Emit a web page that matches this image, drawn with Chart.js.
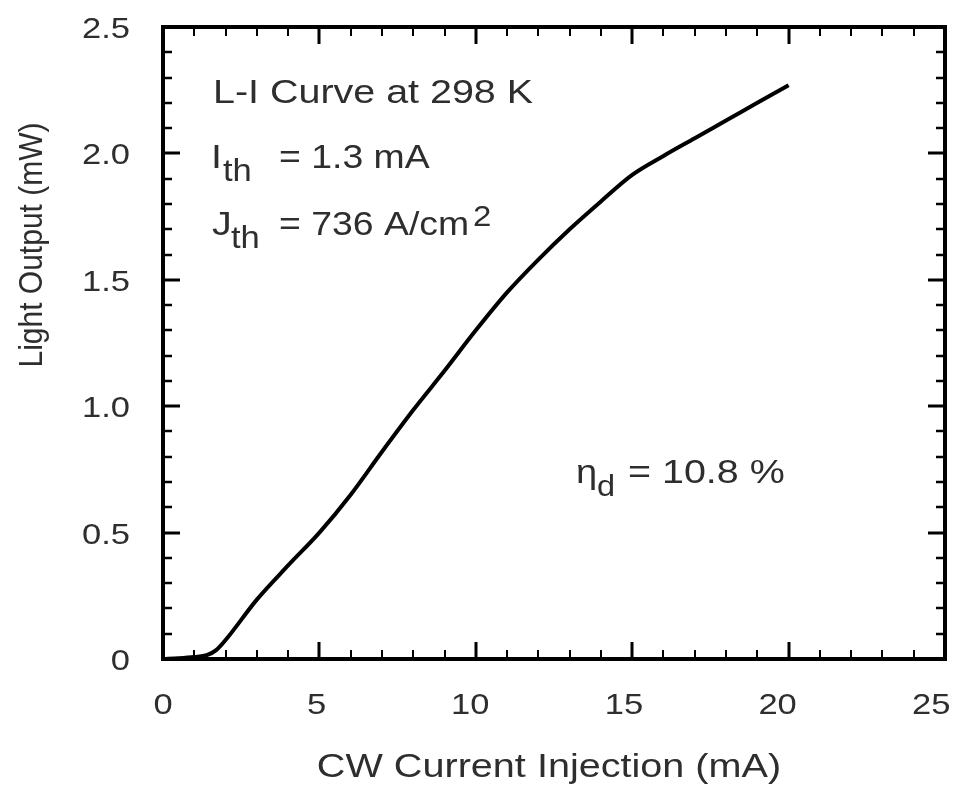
<!DOCTYPE html>
<html>
<head>
<meta charset="utf-8">
<script src="https://cdn.jsdelivr.net/npm/chart.js@4.4.1/dist/chart.umd.min.js"></script>
<style>
  html, body { margin: 0; padding: 0; background: #fff; }
  #wrap { width: 959px; height: 792px; }
</style>
</head>
<body>
<div id="wrap"><canvas id="chart" width="959" height="792"></canvas></div>
<script>
// current (mA) and light output (mW)
const currentMA = [0, 0.5, 1, 1.4, 1.7, 2, 3, 4, 5, 6, 7, 8, 9, 10, 11, 12, 13, 14, 15, 16, 17, 18, 19, 20];
const lightMW = [0, 0.003, 0.008, 0.015, 0.035, 0.075, 0.235, 0.37, 0.5, 0.65, 0.82, 0.985, 1.14, 1.3, 1.45, 1.58, 1.7, 1.81, 1.915, 1.99, 2.06, 2.13, 2.2, 2.27];

const xTicks = [0, 5, 10, 15, 20, 25];
const yTicks = [0, 0.5, 1.0, 1.5, 2.0, 2.5];
const yTickLabels = ["0", "0.5", "1.0", "1.5", "2.0", "2.5"];

const xTitle = "CW Current Injection (mA)";
const yTitle = "Light Output (mW)";

const FONT = "'Liberation Sans', Arial, sans-serif";
const TEXT = "#2e2e2e";

const points = currentMA.map((x, i) => ({ x: x, y: lightMW[i] }));

// the source figure's lettering is a bit wide, so text gets a horizontal stretch
function wideText(ctx, text, x, y, size, sx, align) {
    ctx.save();
    ctx.font = size + "px " + FONT;
    ctx.textAlign = align || "left";
    ctx.textBaseline = "alphabetic";
    ctx.translate(x, y);
    ctx.scale(sx, 1);
    ctx.fillText(text, 0, 0);
    ctx.restore();
}

const framePlugin = {
    id: "frame",
    afterDraw(chart) {
        const ctx = chart.ctx;
        const a = chart.chartArea;
        const xs = chart.scales.x;
        const ys = chart.scales.y;

        ctx.save();
        ctx.strokeStyle = "#000";

        // inward ticks on all four sides
        for (let v = 0; v <= 25; v += 1) {
            const px = Math.round(xs.getPixelForValue(v));
            const major = v % 5 === 0;
            const len = major ? 17 : 9;
            ctx.lineWidth = major ? 3 : 2;
            ctx.beginPath();
            ctx.moveTo(px, a.bottom);
            ctx.lineTo(px, a.bottom - len);
            ctx.moveTo(px, a.top);
            ctx.lineTo(px, a.top + len);
            ctx.stroke();
        }
        for (let k = 0; k <= 25; k++) {
            const py = Math.round(ys.getPixelForValue(k / 10));
            const major = k % 5 === 0;
            const len = major ? 17 : 9;
            ctx.lineWidth = major ? 3 : 2.5;
            ctx.beginPath();
            ctx.moveTo(a.left, py);
            ctx.lineTo(a.left + len, py);
            ctx.moveTo(a.right, py);
            ctx.lineTo(a.right - len, py);
            ctx.stroke();
        }

        ctx.lineWidth = 4;
        ctx.strokeRect(a.left, a.top, a.right - a.left, a.bottom - a.top);

        ctx.fillStyle = TEXT;

        // tick labels (the original's labels drift slightly left along the axis)
        xTicks.forEach(v => {
            wideText(ctx, String(v), xs.getPixelForValue(v) - v * 0.55, 714, 30, 1.15, "center");
        });
        yTicks.forEach((v, i) => {
            wideText(ctx, yTickLabels[i], 130, ys.getPixelForValue(v) + 11, 30, 1.15, "right");
        });

        // axis titles
        wideText(ctx, xTitle, 549, 777, 33, 1.2, "center");

        ctx.save();
        ctx.translate(33, 245);
        ctx.rotate(-Math.PI / 2);
        ctx.scale(1, 1.12);
        ctx.font = "30px " + FONT;
        ctx.textAlign = "center";
        ctx.textBaseline = "middle";
        ctx.fillText(yTitle, 0, 0);
        ctx.restore();

        // notes
        wideText(ctx, "L-I Curve at 298 K", 213, 103, 34, 1.16);

        wideText(ctx, "I", 211, 168, 34, 1.16);
        wideText(ctx, "th", 223, 181, 32, 1.08);
        wideText(ctx, "= 1.3 mA", 279, 168, 34, 1.1);

        wideText(ctx, "J", 212, 235, 34, 1.16);
        wideText(ctx, "th", 231, 248, 32, 1.08);
        wideText(ctx, "= 736 A/cm", 279, 235, 34, 1.1);
        wideText(ctx, "2", 473, 226, 30, 1.1);

        wideText(ctx, "\u03b7", 576, 483, 34, 1.12);
        wideText(ctx, "d", 597, 496, 29, 1.12);
        wideText(ctx, "= 10.8 %", 628, 483, 34, 1.16);

        ctx.restore();
    }
};

new Chart(document.getElementById("chart"), {
    type: "line",

    data: {
        datasets: [
            {
                label: "L-I",
                data: points,
                borderColor: "#000",
                borderWidth: 4,
                pointRadius: 0,
                cubicInterpolationMode: "monotone",
                fill: false
            }
        ]
    },

    options: {
        responsive: false,
        animation: false,
        events: [],

        layout: {
            padding: { top: 27, right: 14, left: 0, bottom: 0 }
        },

        plugins: {
            legend: { display: false },
            tooltip: { enabled: false }
        },

        scales: {
            x: {
                type: "linear",
                min: 0,
                max: 25,
                border: { display: false },
                grid: { display: false, drawTicks: false },
                ticks: { display: false },
                afterFit(scale) {
                    scale.height = 133;
                }
            },

            y: {
                type: "linear",
                min: 0,
                max: 2.5,
                border: { display: false },
                grid: { display: false, drawTicks: false },
                ticks: { display: false },
                afterFit(scale) {
                    scale.width = 163;
                }
            }
        }
    },

    plugins: [framePlugin]
});
</script>
</body>
</html>
